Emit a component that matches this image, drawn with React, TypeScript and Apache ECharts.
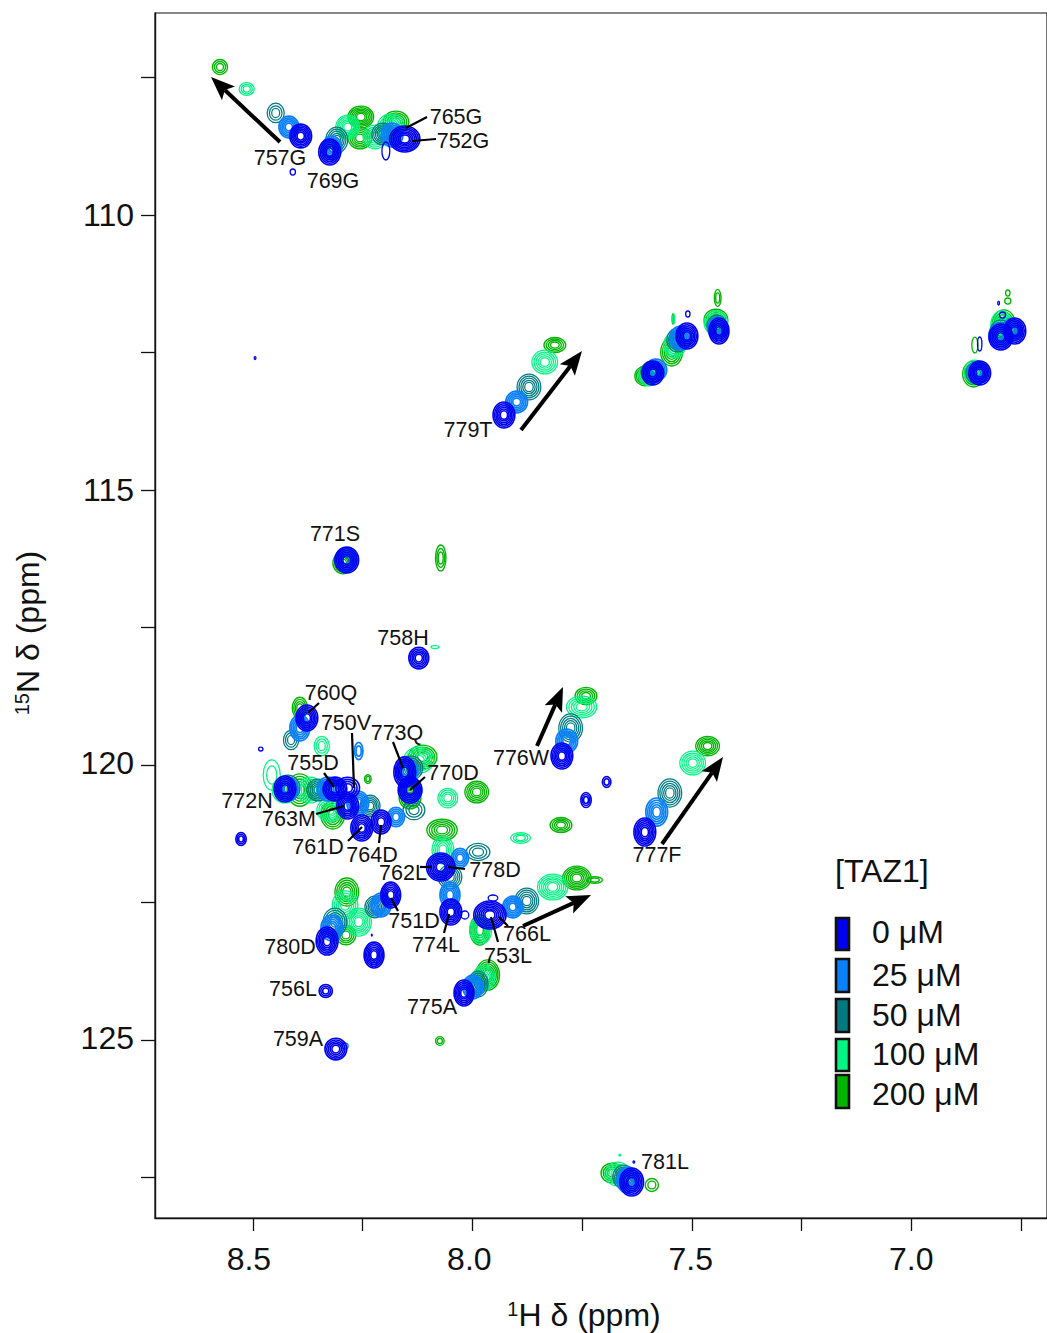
import React, { useEffect, useRef } from "react";
import * as echarts from "echarts";

// [1H ppm, 15N ppm, half-width 1H, half-width 15N, contour levels]
const peaks0 = [
  [8.391,108.564,.023,.2,6],[8.325,108.855,.023,.218,6],[8.154,108.618,.032,.218,7],[8.409,109.218,.006,.055,1],[8.197,108.836,.009,.164,1],
  [8.495,112.6,.002,.027,1],[7.928,113.636,.023,.218,6],[7.589,112.873,.023,.2,6],[7.511,112.2,.023,.218,6],[7.438,112.109,.021,.218,6],
  [7.509,111.8,.005,.055,1],[6.844,112.873,.023,.2,6],[6.796,112.218,.025,.218,6],[6.764,112.109,.023,.218,6],[6.801,111.6,.002,.036,1],
  [6.844,112.345,.005,.127,1],[6.792,111.818,.007,.055,1],
  [8.286,116.273,.025,.218,6],[8.122,118.055,.021,.182,5],[8.377,119.145,.023,.218,6],[8.482,119.709,.005,.036,1],[8.427,120.436,.023,.218,6],
  [8.313,120.436,.025,.2,6],[8.284,120.418,.025,.182,4],[8.284,120.745,.023,.218,6],[8.252,121.145,.023,.218,6],[8.208,121.036,.021,.2,5],
  [8.527,121.345,.011,.109,3],[8.154,120.127,.023,.255,6],[8.142,120.455,.025,.218,6],[8.072,121.855,.03,.236,7],[8.049,122.673,.023,.218,6],
  [8.017,122.727,.009,.073,1],[7.96,122.727,.034,.236,7],[7.953,122.418,.011,.055,1],[8.186,122.364,.021,.218,6],[8.331,123.2,.023,.236,6],
  [8.224,123.455,.021,.218,6],[8.229,123.091,.001,.018,1],[8.334,124.109,.014,.109,3],[8.311,125.164,.023,.182,5],[8.019,124.145,.021,.218,6],
  [7.796,119.836,.023,.218,6],[7.607,121.218,.023,.236,6],[7.694,120.309,.009,.091,2],[7.741,120.636,.011,.127,3],[7.637,127.582,.025,.236,6],
  [7.632,127.218,.002,.018,1],
];
const peaks25 = [
  [8.418,108.4,.021,.182,5],[8.32,108.782,.021,.2,5],[8.183,108.545,.023,.2,5],[7.899,113.4,.023,.182,5],[7.582,112.818,.023,.182,5],
  [7.525,112.236,.023,.2,5],[7.441,112.055,.021,.182,5],[6.848,112.855,.021,.182,5],[6.798,112.182,.023,.2,5],[6.771,112.091,.021,.182,5],
  [8.288,116.273,.023,.2,5],[8.393,119.327,.021,.218,5],[8.42,120.436,.021,.2,5],[8.329,120.436,.023,.2,5],[8.261,120.691,.023,.2,5],
  [8.174,120.945,.018,.164,4],[8.259,119.745,.009,.145,2],[8.149,120.109,.023,.2,5],[8.14,120.455,.023,.2,5],[8.028,121.691,.018,.164,4],
  [8.051,122.364,.021,.218,5],[7.908,122.582,.021,.182,5],[8.208,122.545,.021,.2,5],[8.32,122.964,.023,.218,5],[7.999,124.036,.021,.2,5],
  [7.785,119.564,.023,.2,5],[7.58,120.855,.023,.236,5],[7.646,127.545,.023,.218,5],[8.29,125.109,.007,.055,1],
];
const peaks50 = [
  [8.448,108.145,.018,.164,3],[8.309,108.636,.023,.218,5],[8.204,108.527,.023,.182,5],[7.871,113.127,.025,.218,5],[7.591,112.855,.023,.182,5],
  [7.532,112.273,.023,.2,5],[7.443,112.018,.021,.182,5],[6.851,112.873,.023,.182,5],[6.796,112.127,.023,.2,5],[6.771,112.055,.018,.164,5],
  [8.29,116.291,.021,.182,5],[8.413,119.545,.016,.164,3],[8.42,120.418,.025,.218,5],[8.352,120.455,.023,.182,5],[8.233,120.745,.021,.182,5],
  [8.133,120.818,.023,.164,3],[8.138,120.055,.023,.2,5],[7.987,121.582,.025,.145,3],[8.051,122.036,.025,.2,5],[7.876,122.473,.025,.218,5],
  [8.222,122.582,.021,.182,5],[8.313,122.855,.025,.236,5],[7.987,123.982,.021,.218,5],[7.776,119.327,.025,.236,5],[7.55,120.509,.025,.236,5],
  [7.655,127.491,.023,.2,5],
];
const peaks100 = [
  [8.514,107.709,.016,.109,3],[8.284,108.4,.025,.2,6],[8.222,108.582,.025,.2,5],[8.186,108.364,.027,.182,5],[7.835,112.673,.027,.2,5],
  [7.598,112.909,.021,.182,5],[7.539,112.364,.023,.218,5],[7.445,111.964,.025,.2,5],[6.855,112.855,.023,.2,5],[6.794,112.0,.023,.236,5],
  [6.78,112.091,.021,.218,5],[8.343,119.655,.016,.164,3],[8.457,120.182,.018,.255,2],[8.427,120.455,.027,.218,5],[8.37,120.455,.027,.218,5],
  [8.325,120.818,.027,.2,5],[8.056,120.6,.021,.164,4],[8.122,119.909,.032,.218,5],[8.067,121.545,.023,.236,5],[7.817,122.218,.032,.218,6],
  [8.29,122.545,.027,.236,5],[8.259,122.855,.027,.236,6],[7.981,123.0,.023,.236,5],[7.974,123.873,.023,.218,5],[7.751,118.945,.032,.182,5],
  [7.498,119.964,.027,.2,5],[7.89,121.327,.021,.091,3],[7.669,127.436,.027,.2,5],[7.664,127.091,.002,.018,1],[8.085,117.855,.009,.027,1],
  [7.541,111.891,.002,.091,1],
];
const peaks200 = [
  [8.575,107.309,.016,.127,3],[8.254,108.218,.027,.182,6],[8.256,108.6,.025,.182,5],[8.174,108.309,.027,.182,5],[7.812,112.364,.023,.127,4],
  [7.607,112.927,.021,.164,5],[7.546,112.491,.023,.236,5],[7.445,111.909,.025,.182,5],[7.441,111.509,.007,.145,2],[6.858,112.891,.023,.218,5],
  [6.855,112.364,.007,.145,1],[6.789,112.0,.025,.255,5],[6.78,111.418,.005,.055,1],[6.78,111.564,.007,.055,1],[8.393,118.964,.016,.182,4],
  [8.295,116.327,.021,.182,5],[8.393,120.455,.027,.273,5],[8.318,120.909,.025,.236,5],[8.238,120.255,.007,.073,2],[7.99,120.491,.025,.182,5],
  [8.113,119.855,.03,.2,5],[8.142,120.6,.023,.182,5],[7.798,121.091,.023,.127,4],[7.762,122.055,.03,.2,6],[7.721,122.091,.016,.055,2],
  [7.983,123.0,.021,.255,5],[7.965,123.818,.025,.255,6],[8.074,125.018,.009,.073,2],[8.072,116.236,.011,.218,3],[7.741,118.745,.023,.145,4],
  [7.464,119.655,.025,.164,5],[8.286,122.309,.025,.236,5],[8.288,123.091,.021,.164,4],[8.069,121.182,.032,.182,5],[7.682,127.418,.023,.164,4],
  [7.591,127.636,.014,.109,2],[7.543,111.891,.002,.091,1],
];

const concentrations = ["0 μM", "25 μM", "50 μM", "100 μM", "200 μM"];
const colors = ["#0000f0", "#0a80ff", "#007a80", "#00f582", "#00b400"];
const lineWidths = [1.6, 1.7, 1.25, 1.25, 1.35];
const peakSets = [peaks0, peaks25, peaks50, peaks100, peaks200];

const xTicks = [8.5, 8.25, 8.0, 7.75, 7.5, 7.25, 7.0, 6.75];
const xLabels = [8.5, 8.0, 7.5, 7.0];
const yTicks = [107.5, 110, 112.5, 115, 117.5, 120, 122.5, 125, 127.5];
const yLabels = [110, 115, 120, 125];

const residueLabels: [string, number, number][] = [
  ["757G",280,158],["769G",333,181],["765G",456,117],["752G",463,141],["779T",468,430],["771S",335,534],
  ["758H",403,638],["760Q",331,693],["750V",346,723],["773Q",397,733],["755D",313,763],["770D",453,773],
  ["772N",247,801],["763M",289,819],["761D",318,847],["764D",372,855],["762L",403,873],["778D",495,870],
  ["751D",414,921],["780D",290,947],["774L",436,945],["766L",527,934],["753L",508,956],["756L",293,989],
  ["775A",432,1007],["759A",298,1039],["776W",521,758],["777F",657,855],["781L",665,1162],
];
const leaders = [
  [427,117,406,128],[436,139,412,141],[319,703,308,713],[352,733,354,788],[393,742,403,768],[324,773,334,787],
  [425,777,410,790],[316,814,344,806],[348,841,362,827],[379,843,381,825],[420,867,432,867],[448,867,465,869],
  [398,911,391,898],[444,933,449,914],[508,926,499,917],[498,942,491,917],
];
const arrows = [
  [280,142,211,77],[521,430,582,351],[537,746,563,687],[662,844,723,757],[523,926,591,895],
];
const legendRows = [
  { top: 918, h: 32, textY: 932 },
  { top: 959, h: 33, textY: 975 },
  { top: 999, h: 33, textY: 1015 },
  { top: 1039, h: 32, textY: 1054 },
  { top: 1075, h: 33, textY: 1094 },
];

const FONT = '"Liberation Sans", Arial, sans-serif';

function contourSeries(name: string, color: string, width: number, data: number[][], z: number) {
  return {
    type: "custom",
    name,
    data,
    z,
    silent: true,
    clip: true,
    encode: { x: 0, y: 1 },
    renderItem: (_p: any, api: any) => {
      const h = api.value(0), n = api.value(1), wh = api.value(2), wn = api.value(3), levels = api.value(4);
      const c = api.coord([h, n]);
      const rx = Math.abs(api.coord([h + wh, n])[0] - c[0]) * (levels > 1 ? 1.08 : 1);
      const ry = Math.abs(api.coord([h, n + wn])[1] - c[1]) * (levels > 1 ? 1.08 : 1);
      const children: any[] = [];
      for (let i = 0; i < levels; i++) {
        const f = levels === 1 ? 1 : 1 - (i * 0.8) / levels;
        children.push({
          type: "ellipse",
          shape: { cx: c[0], cy: c[1], rx: rx * f, ry: ry * f },
          style: { fill: "none", stroke: color, lineWidth: levels === 1 ? 1.3 : width },
        });
      }
      return { type: "group", children };
    },
  };
}

function annotationGraphics() {
  const g: any[] = [];
  residueLabels.forEach(([t, x, y]) =>
    g.push({ type: "text", x, y, z: 101, silent: true,
      style: { text: t, font: `21.5px ${FONT}`, fill: "#111", align: "center", verticalAlign: "middle" } })
  );
  leaders.forEach(([x1, y1, x2, y2]) =>
    g.push({ type: "line", z: 100, silent: true, shape: { x1, y1, x2, y2 }, style: { stroke: "#000", lineWidth: 2.2 } })
  );
  arrows.forEach(([x1, y1, x2, y2]) => {
    const a = Math.atan2(y2 - y1, x2 - x1);
    const len = 24, half = 9.5, back = 19;
    const ux = Math.cos(a), uy = Math.sin(a);
    const bx = x2 - ux * len, by = y2 - uy * len;
    g.push({ type: "line", z: 100, silent: true,
      shape: { x1, y1, x2: x2 - ux * back, y2: y2 - uy * back }, style: { stroke: "#000", lineWidth: 4 } });
    g.push({ type: "polygon", z: 100, silent: true,
      shape: { points: [[x2, y2], [bx - uy * half, by + ux * half], [x2 - ux * back, y2 - uy * back], [bx + uy * half, by - ux * half]] },
      style: { fill: "#000" } });
  });
  g.push({ type: "text", x: 835, y: 871, z: 101, silent: true,
    style: { text: "[TAZ1]", font: `32px ${FONT}`, fill: "#111", align: "left", verticalAlign: "middle" } });
  legendRows.forEach((r, i) => {
    g.push({ type: "rect", z: 101, silent: true, shape: { x: 836, y: r.top, width: 13, height: r.h },
      style: { fill: colors[i], stroke: "#111", lineWidth: 2.6 } });
    g.push({ type: "text", x: 872, y: r.textY, z: 101, silent: true,
      style: { text: concentrations[i], font: `32px ${FONT}`, fill: "#111", align: "left", verticalAlign: "middle" } });
  });
  g.push({ type: "text", x: 584, y: 1315, z: 101, silent: true,
    style: { text: "{s|1}{b|H δ (ppm)}", fill: "#111", align: "center", verticalAlign: "middle",
      rich: { s: { font: `20px ${FONT}`, fill: "#111", verticalAlign: "top", padding: [0, 0, 10, 0] }, b: { font: `32px ${FONT}`, fill: "#111" } } } });
  g.push({ type: "text", x: 28, y: 633, rotation: Math.PI / 2, z: 101, silent: true,
    style: { text: "{s|15}{b|N δ (ppm)}", fill: "#111", align: "center", verticalAlign: "middle",
      rich: { s: { font: `20px ${FONT}`, fill: "#111", verticalAlign: "top", padding: [0, 0, 10, 0] }, b: { font: `32px ${FONT}`, fill: "#111" } } } });
  return g;
}

const labelFont = { color: "#111", fontSize: 32, fontFamily: "Liberation Sans" };

export default function App() {
  const ref = useRef<HTMLDivElement>(null);
  useEffect(() => {
    const chart = echarts.init(ref.current!, null, { renderer: "svg" });
    const axisCommon = {
      type: "value",
      inverse: true,
      axisLine: { show: true, lineStyle: { color: "#111", width: 1.4 } },
      splitLine: { show: false },
    };
    chart.setOption({
      animation: false,
      backgroundColor: "#fff",
      grid: { left: 155, top: 13, width: 892, height: 1205, show: true, borderColor: "#111", borderWidth: 1.2, backgroundColor: "transparent" },
      xAxis: {
        ...axisCommon,
        min: 6.6907,
        max: 8.723,
        axisTick: { show: true, length: 13, inside: false, customValues: xTicks, lineStyle: { color: "#111", width: 1.3 } },
        axisLabel: {
          customValues: xLabels,
          formatter: (v: number) => `{${v >= 8.4 ? "a" : v >= 7.9 ? "b" : v >= 7.4 ? "c" : "d"}|${v.toFixed(1)}}`,
          margin: 25,
          ...labelFont,
          rich: {
            a: { ...labelFont, padding: [0, 8, 0, 0] },
            b: { ...labelFont, padding: [0, 6, 0, 0] },
            c: { ...labelFont, padding: [0, 2, 0, 0] },
            d: { ...labelFont },
          },
        },
      },
      yAxis: {
        ...axisCommon,
        min: 106.327,
        max: 128.236,
        axisTick: { show: true, length: 14, inside: false, customValues: yTicks, lineStyle: { color: "#111", width: 1.3 } },
        axisLabel: {
          customValues: yLabels,
          formatter: (v: number) => `{${v >= 120 ? "u" : "n"}|${v}}`,
          margin: 21,
          ...labelFont,
          rich: { u: { ...labelFont, padding: [0, 0, 4, 0] }, n: { ...labelFont } },
        },
      },
      series: [4, 3, 2, 1, 0].map((i, k) => contourSeries(concentrations[i], colors[i], lineWidths[i], peakSets[i], 2 + k)),
      graphic: { elements: annotationGraphics() },
    });
    return () => chart.dispose();
  }, []);
  return <div ref={ref} style={{ position: "fixed", left: 0, top: 0, width: 1047, height: 1333 }} />;
}
